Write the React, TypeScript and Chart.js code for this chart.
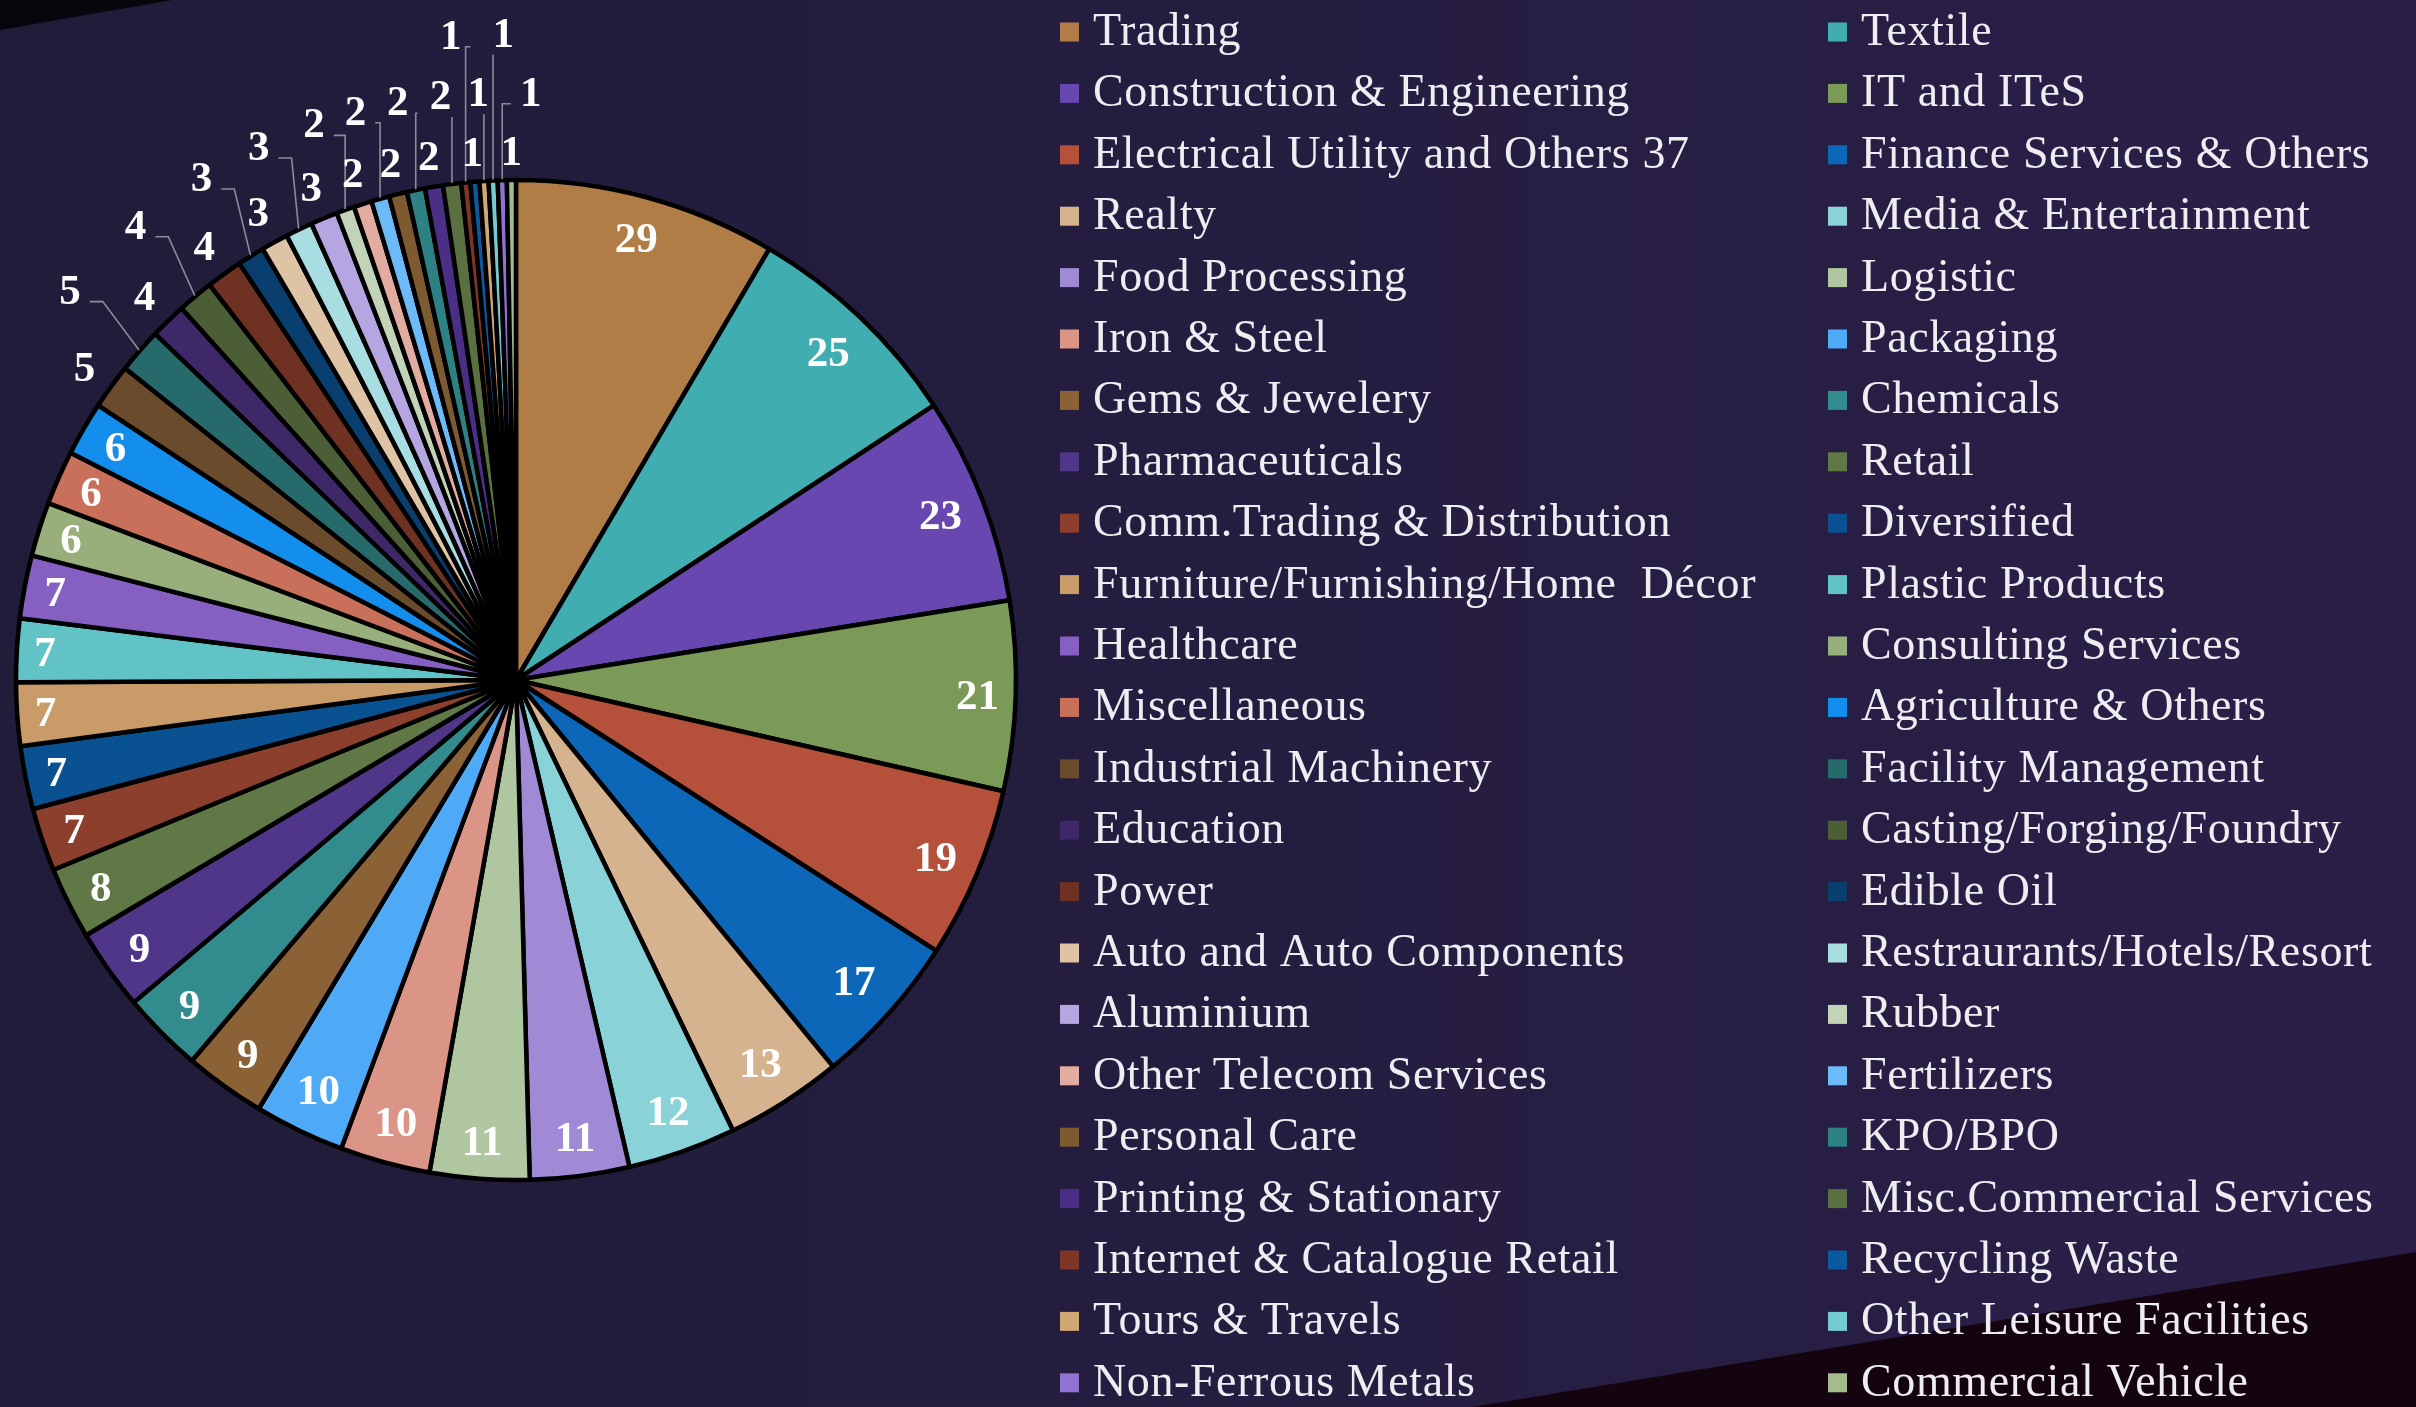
import React, { useEffect, useRef } from "react";
import { Chart, registerables } from "chart.js";

Chart.register(...registerables);

// ---------- data ----------
const sectors: string[] = [
  "Trading", "Textile",
  "Construction & Engineering", "IT and ITeS",
  "Electrical Utility and Others 37", "Finance Services & Others",
  "Realty", "Media & Entertainment",
  "Food Processing", "Logistic",
  "Iron & Steel", "Packaging",
  "Gems & Jewelery", "Chemicals",
  "Pharmaceuticals", "Retail",
  "Comm.Trading & Distribution", "Diversified",
  "Furniture/Furnishing/Home  Décor", "Plastic Products",
  "Healthcare", "Consulting Services",
  "Miscellaneous", "Agriculture & Others",
  "Industrial Machinery", "Facility Management",
  "Education", "Casting/Forging/Foundry",
  "Power", "Edible Oil",
  "Auto and Auto Components", "Restraurants/Hotels/Resort",
  "Aluminium", "Rubber",
  "Other Telecom Services", "Fertilizers",
  "Personal Care", "KPO/BPO",
  "Printing & Stationary", "Misc.Commercial Services",
  "Internet & Catalogue Retail", "Recycling Waste",
  "Tours & Travels", "Other Leisure Facilities",
  "Non-Ferrous Metals", "Commercial Vehicle",
];

const companyCounts: number[] = [
  29, 25, 23, 21, 19, 17, 13, 12, 11, 11, 10, 10, 9, 9, 9, 8,
  7, 7, 7, 7, 7, 6, 6, 6, 5, 5, 4, 4, 4, 3, 3, 3, 3,
  2, 2, 2, 2, 2, 2, 2, 1, 1, 1, 1, 1, 1,
];

const sliceColors: string[] = [
  "#B07D46", "#40AEB1", "#6848B0", "#7B9A58", "#B5503A", "#0C67B9",
  "#D5B38F", "#89D3D8", "#A089D5", "#B0C6A0", "#DA9587", "#4EA9F6",
  "#8B6235", "#328B8D", "#503689", "#5F7845", "#8D3F2D", "#0A5192",
  "#C89B68", "#62C3C6", "#8560C2", "#98AF7B", "#C9705B", "#138EEC",
  "#6A4B2B", "#276A6B", "#3E2868", "#4C5E36", "#6E3122", "#083F6F",
  "#DEC4A5", "#A8DDE1", "#B5A6E1", "#C3D3B8", "#E3ACA1", "#6DBAF9",
  "#7E5A31", "#2E8183", "#4B2F87", "#5B7040", "#7F3626", "#0B5AA0",
  "#D0A873", "#75CCD0", "#9171D2", "#A4BC8B",
];

// ---------- layout constants ----------
const W = 2416;
const H = 1407;
const CX = 516;
const CY = 680;
const RADIUS = 500;
const BORDER = 4.5;
const SIDE = RADIUS * 2 + BORDER;
const PAD_LEFT = CX - SIDE / 2;
const PAD_TOP = CY - SIDE / 2;

const LABEL_FONT = "bold 43px 'Liberation Serif', 'DejaVu Serif', serif";
const LEGEND_FONT = "46px 'Liberation Serif', 'DejaVu Serif', serif";
const LEGEND_BOX_X = [1060, 1828];
const LEGEND_TOP = 32;
const LEGEND_STEP = 61.4;

const backgroundPlugin = {
  id: "slideBackground",
  beforeDraw(chart: any) {
    const ctx = chart.ctx as CanvasRenderingContext2D;
    ctx.save();
    const g = ctx.createLinearGradient(0, 0, W, 0);
    g.addColorStop(0, "#201C39");
    g.addColorStop(0.45, "#241D3F");
    g.addColorStop(1, "#2B1F48");
    ctx.fillStyle = g;
    ctx.fillRect(0, 0, W, H);
    ctx.fillStyle = "#07060C";
    ctx.beginPath();
    ctx.moveTo(0, 0);
    ctx.lineTo(172, 0);
    ctx.lineTo(0, 30);
    ctx.closePath();
    ctx.fill();
    ctx.fillStyle = "#14040F";
    ctx.beginPath();
    ctx.moveTo(1472, H);
    ctx.lineTo(W, 1252);
    ctx.lineTo(W, H);
    ctx.closePath();
    ctx.fill();
    ctx.restore();
  },
};

const sliceLabelPlugin = {
  id: "sliceLabels",
  afterDatasetsDraw(chart: any) {
    const ctx = chart.ctx as CanvasRenderingContext2D;
    const meta = chart.getDatasetMeta(0);
    const values = chart.data.datasets[0].data as number[];
    ctx.save();
    ctx.font = LABEL_FONT;
    ctx.textAlign = "center";
    ctx.textBaseline = "alphabetic";
    const asc = ctx.measureText("0").actualBoundingBoxAscent;
    const draw = (t: string, x: number, y: number) => {
      ctx.fillStyle = "#FFFFFF";
      ctx.fillText(t, x, y + asc / 2);
    };
    type Box = { x: number; y: number; w: number; h: number };
    const placed: Box[] = [];
    const hits = (b: Box) =>
      placed.some(
        (p) => Math.abs(p.x - b.x) < (p.w + b.w) / 2 && Math.abs(p.y - b.y) < (p.h + b.h) / 2
      );
    const outside: any[] = [];

    meta.data.forEach((arc: any, i: number) => {
      const p = arc.getProps(["x", "y", "startAngle", "endAngle", "outerRadius"], true);
      const mid = (p.startAngle + p.endAngle) / 2;
      const text = String(values[i]);
      const tw = ctx.measureText(text).width;
      const span = (p.endAngle - p.startAngle) * (p.outerRadius - 30);
      if (span >= tw + 26) {
        const ux = Math.cos(mid);
        const uy = Math.sin(mid);
        const w = tw + 8;
        const h = 48;
        const ext = (Math.abs(ux) * w) / 2 + (Math.abs(uy) * h) / 2;
        const r = p.outerRadius - 12 - ext;
        draw(text, p.x + ux * r, p.y + uy * r);
      } else {
        outside.push({ text, tw, mid, cx: p.x, cy: p.y, R: p.outerRadius });
      }
    });

    const step = Math.PI / 120; // 1.5 degrees
    const ringGap = 59;
    for (const o of outside) {
      const cands: number[][] = [[0, 0]];
      for (let m = 0; m <= 18; m++) {
        for (const k of [1, 2]) {
          for (const s of m === 0 ? [0] : [-1, 1]) cands.push([k, s * m]);
        }
      }
      let chosen: any = null;
      for (const [k, m] of cands) {
        const a = o.mid + m * step;
        const ux = Math.cos(a);
        const uy = Math.sin(a);
        const bw = o.tw + 10;
        const bh = 42;
        const ext = (Math.abs(ux) * bw) / 2 + (Math.abs(uy) * bh) / 2;
        const r = o.R + 8 + ext + ringGap * k;
        const x = o.cx + ux * r;
        const y = o.cy + uy * r;
        if (y - asc / 2 < 6) continue;
        const box = { x, y, w: o.tw + 16, h: 52 };
        if (hits(box)) continue;
        chosen = { x, y, k, m, box };
        break;
      }
      if (!chosen) {
        const ux = Math.cos(o.mid);
        const uy = Math.sin(o.mid);
        const r = o.R + 32;
        const x = o.cx + ux * r;
        const y = o.cy + uy * r;
        chosen = { x, y, k: 0, m: 0, box: { x, y, w: o.tw + 16, h: 52 } };
      }
      placed.push(chosen.box);

      if (chosen.k > 0 || chosen.m !== 0) {
        const ax = o.cx + Math.cos(o.mid) * (o.R + 1);
        const ay = o.cy + Math.sin(o.mid) * (o.R + 1);
        const left = chosen.x - o.tw / 2;
        const right = chosen.x + o.tw / 2;
        const bottom = chosen.y + asc / 2;
        ctx.strokeStyle = "#8C8C96";
        ctx.lineWidth = 1.6;
        ctx.beginPath();
        if (ax >= left - 4 && ax <= right + 4) {
          ctx.moveTo(ax, bottom + 8);
          ctx.lineTo(ax, ay);
        } else if (ax > right) {
          const sx = right + 9;
          const sy = bottom - 2;
          const ex = Math.min(sx + 13, ax);
          ctx.moveTo(sx, sy);
          ctx.lineTo(ex, sy);
          ctx.lineTo(ax, ay);
        } else {
          const sx = left - 9;
          const sy = bottom - 2;
          const ex = Math.max(sx - 13, ax);
          ctx.moveTo(sx, sy);
          ctx.lineTo(ex, sy);
          ctx.lineTo(ax, ay);
        }
        ctx.stroke();
      }
      draw(o.text, chosen.x, chosen.y);
    }
    ctx.restore();
  },
};

const sideLegendPlugin = {
  id: "sideLegend",
  afterDraw(chart: any) {
    const ctx = chart.ctx as CanvasRenderingContext2D;
    const labels = chart.data.labels as string[];
    const colors = chart.data.datasets[0].backgroundColor as string[];
    ctx.save();
    ctx.font = LEGEND_FONT;
    (ctx as any).letterSpacing = "0.6px";
    ctx.textAlign = "left";
    ctx.textBaseline = "alphabetic";
    labels.forEach((lab, i) => {
      const col = i % 2;
      const row = Math.floor(i / 2);
      const bx = LEGEND_BOX_X[col];
      const cy = LEGEND_TOP + row * LEGEND_STEP;
      ctx.fillStyle = colors[i];
      ctx.fillRect(bx, cy - 9.5, 19, 19);
      ctx.fillStyle = "#EEEDF2";
      ctx.fillText(lab, bx + 33, cy + 13);
    });
    ctx.restore();
  },
};

export default function App() {
  const canvasRef = useRef<HTMLCanvasElement | null>(null);

  useEffect(() => {
    const canvas = canvasRef.current;
    if (!canvas) return;
    const chart = new Chart(canvas, {
      type: "pie",
      data: {
        labels: sectors,
        datasets: [
          {
            data: companyCounts,
            backgroundColor: sliceColors,
            borderColor: "#000000",
            borderWidth: BORDER,
            hoverOffset: 0,
            offset: 0,
          },
        ],
      },
      options: {
        responsive: false,
        maintainAspectRatio: false,
        animation: false,
        events: [],
        devicePixelRatio: 1,
        layout: {
          padding: {
            left: PAD_LEFT,
            top: PAD_TOP,
            right: W - PAD_LEFT - SIDE,
            bottom: H - PAD_TOP - SIDE,
          },
        },
        plugins: {
          legend: { display: false },
          tooltip: { enabled: false },
        },
      },
      plugins: [backgroundPlugin, sliceLabelPlugin, sideLegendPlugin],
    } as any);
    return () => chart.destroy();
  }, []);

  return (
    <div
      style={{
        position: "fixed",
        left: 0,
        top: 0,
        width: W,
        height: H,
        overflow: "hidden",
        background: "#221D3C",
      }}
    >
      <canvas ref={canvasRef} width={W} height={H} style={{ display: "block", width: W, height: H }} />
    </div>
  );
}
